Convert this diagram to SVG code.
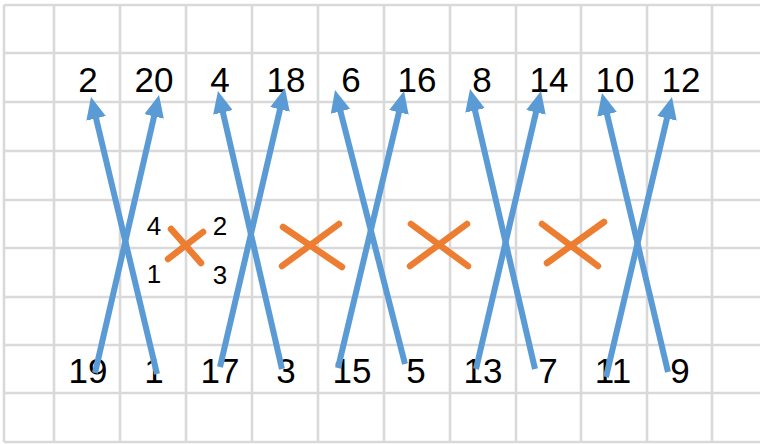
<svg xmlns="http://www.w3.org/2000/svg" width="760" height="444" viewBox="0 0 760 444">
<style>
.grid line{stroke:#D9D9D9;stroke-width:2.6}
.big{font-family:"Liberation Sans",Arial,sans-serif;font-size:35px;fill:#000;text-anchor:middle}
.small{font-family:"Liberation Sans",Arial,sans-serif;font-size:26px;fill:#000;text-anchor:middle}
.arr{stroke:#5B9BD5;stroke-width:6;fill:none;marker-end:url(#ah)}
.x line{stroke:#ED7D31;stroke-width:6.5;stroke-linecap:round}
</style>
<defs>
<marker id="ah" markerUnits="userSpaceOnUse" viewBox="0 0 22 20" refX="12" refY="10" markerWidth="22" markerHeight="20" orient="auto">
<path d="M0,0 L22,10 L0,20 z" fill="#5B9BD5"/>
</marker>
</defs>
<rect width="760" height="444" fill="#fff"/>
<g class="grid" id="grid">
<line x1="4" y1="5" x2="760" y2="5"/>
<line x1="4" y1="53" x2="760" y2="53"/>
<line x1="4" y1="102" x2="760" y2="102"/>
<line x1="4" y1="151" x2="760" y2="151"/>
<line x1="4" y1="200" x2="760" y2="200"/>
<line x1="4" y1="248" x2="760" y2="248"/>
<line x1="4" y1="297" x2="760" y2="297"/>
<line x1="4" y1="345" x2="760" y2="345"/>
<line x1="4" y1="393" x2="760" y2="393"/>
<line x1="4" y1="442" x2="760" y2="442"/>
<line x1="4" y1="5" x2="4" y2="442"/>
<line x1="54" y1="5" x2="54" y2="442"/>
<line x1="120" y1="5" x2="120" y2="442"/>
<line x1="186" y1="5" x2="186" y2="442"/>
<line x1="252" y1="5" x2="252" y2="442"/>
<line x1="318" y1="5" x2="318" y2="442"/>
<line x1="384" y1="5" x2="384" y2="442"/>
<line x1="450" y1="5" x2="450" y2="442"/>
<line x1="516" y1="5" x2="516" y2="442"/>
<line x1="581" y1="5" x2="581" y2="442"/>
<line x1="647" y1="5" x2="647" y2="442"/>
<line x1="712" y1="5" x2="712" y2="442"/>
</g>
<g id="top-labels">
<text id="t2" class="big" x="88" y="92">2</text>
<text id="t20" class="big" x="154" y="92">20</text>
<text id="t4" class="big" x="220" y="92">4</text>
<text id="t18" class="big" x="286" y="92">18</text>
<text id="t6" class="big" x="351" y="92">6</text>
<text id="t16" class="big" x="417" y="92">16</text>
<text id="t8" class="big" x="482" y="92">8</text>
<text id="t14" class="big" x="549" y="92">14</text>
<text id="t10" class="big" x="615" y="92">10</text>
<text id="t12" class="big" x="681" y="92">12</text>
</g>
<g id="bottom-labels">
<text id="b19" class="big" x="88" y="383">19</text>
<text id="b1" class="big" x="154" y="383">1</text>
<text id="b17" class="big" x="220" y="383">17</text>
<text id="b3" class="big" x="286" y="383">3</text>
<text id="b15" class="big" x="352" y="383">15</text>
<text id="b5" class="big" x="416" y="383">5</text>
<text id="b13" class="big" x="483" y="383">13</text>
<text id="b7" class="big" x="548" y="383">7</text>
<text id="b11" class="big" x="613" y="383">11</text>
<text id="b9" class="big" x="680" y="383">9</text>
</g>
<g id="small-labels">
<text class="small" x="154" y="235">4</text>
<text class="small" x="220" y="235">2</text>
<text class="small" x="154" y="283">1</text>
<text class="small" x="220" y="284">3</text>
</g>
<g id="connectors">
<line class="arr" x1="95" y1="373" x2="156.8" y2="104.7"/>
<line class="arr" x1="157" y1="374" x2="93.3" y2="106.7"/>
<line class="arr" x1="220" y1="367" x2="282.7" y2="97.7"/>
<line class="arr" x1="282" y1="369" x2="220.2" y2="100.7"/>
<line class="arr" x1="338" y1="368" x2="401.7" y2="100.7"/>
<line class="arr" x1="405" y1="364" x2="337.5" y2="99.7"/>
<line class="arr" x1="476" y1="369" x2="538.7" y2="100.7"/>
<line class="arr" x1="535" y1="369" x2="472.3" y2="98.7"/>
<line class="arr" x1="606" y1="377" x2="669.7" y2="106.7"/>
<line class="arr" x1="668" y1="372" x2="604.3" y2="102.7"/>
</g>
<g class="x" id="x1">
<line x1="171" y1="229" x2="201" y2="263"/>
<line x1="168" y1="259" x2="203" y2="232"/>
</g>
<g class="x" id="x2">
<line x1="283" y1="227" x2="342" y2="267"/>
<line x1="282" y1="266" x2="339" y2="224"/>
</g>
<g class="x" id="x3">
<line x1="411" y1="224" x2="468" y2="266"/>
<line x1="410" y1="266" x2="467" y2="224"/>
</g>
<g class="x" id="x4">
<line x1="542" y1="224" x2="598" y2="266"/>
<line x1="547" y1="263" x2="604" y2="222"/>
</g>
</svg>
